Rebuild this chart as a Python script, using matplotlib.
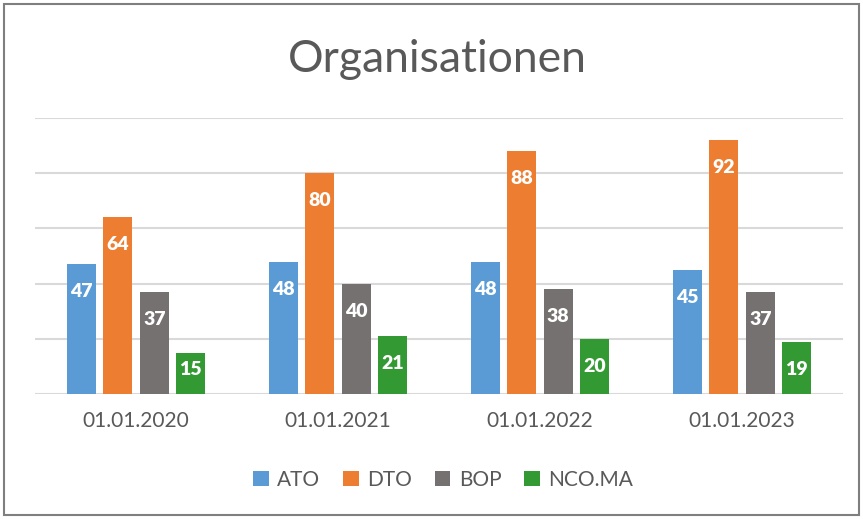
import matplotlib
matplotlib.use('Agg')
import numpy as np
import matplotlib.pyplot as plt
from matplotlib.patches import Rectangle

dates = ['01.01.2020', '01.01.2021', '01.01.2022', '01.01.2023']
series = ['ATO', 'DTO', 'BOP', 'NCO.MA']
ato = [47, 48, 48, 45]
dto = [64, 80, 88, 92]
bop = [37, 40, 38, 37]
nco = [15, 21, 20, 19]
colors = ['#5B9BD5', '#ED7D31', '#767171', '#339933']
text_col = '#595959'

plt.rcParams['font.family'] = ['Lato', 'DejaVu Sans']

W, H = 863, 519
fig = plt.figure(figsize=(W / 100, H / 100), dpi=100)
ax = fig.add_axes([35 / W, 1 - 394.3 / H, (843 - 35) / W, (394.3 - 117.7) / H])

x = np.arange(len(dates))
pitch = 0.181
width = 0.143
for i, (name, vals) in enumerate(zip(series, [ato, dto, bop, nco])):
    pos = x + (i - 1.5) * pitch
    ax.bar(pos, vals, width, color=colors[i], label=name, zorder=3)
    for px, v in zip(pos, vals):
        # label sits just below the bar top, kept inside short bars
        ax.text(px, max(v - 10, 8.8), str(v), ha='center', va='center',
                color='white', fontsize=14, fontweight='heavy', zorder=4)

ax.set_xlim(-0.5, 3.5)
ax.set_ylim(0, 100)
ax.set_yticks(np.arange(0, 101, 20))
ax.set_yticklabels([])
ax.tick_params(axis='y', length=0)
ax.tick_params(axis='x', length=0, pad=12, labelsize=15, labelcolor=text_col)
ax.set_xticks(x)
ax.set_xticklabels(dates)
ax.grid(axis='y', color='#D9D9D9', linewidth=1.5, zorder=0)
for s in ax.spines.values():
    s.set_visible(False)

fig.text(437 / W, 1 - 59 / H, 'Organisationen', ha='center', va='center',
         fontsize=32, color=text_col)

leg = fig.legend(loc='center', bbox_to_anchor=(443 / W, 1 - 480 / H), ncol=4,
                 frameon=False, fontsize=15, handlelength=0.75, handleheight=0.75,
                 handletextpad=0.4, columnspacing=1.1)
for t in leg.get_texts():
    t.set_color(text_col)

fig.patches.append(Rectangle((4 / W, 4 / H), (W - 8) / W, (H - 8) / H,
                             transform=fig.transFigure, fill=False,
                             edgecolor='#7F7F7F', linewidth=1.5))

fig.savefig('out.png', dpi=100)
